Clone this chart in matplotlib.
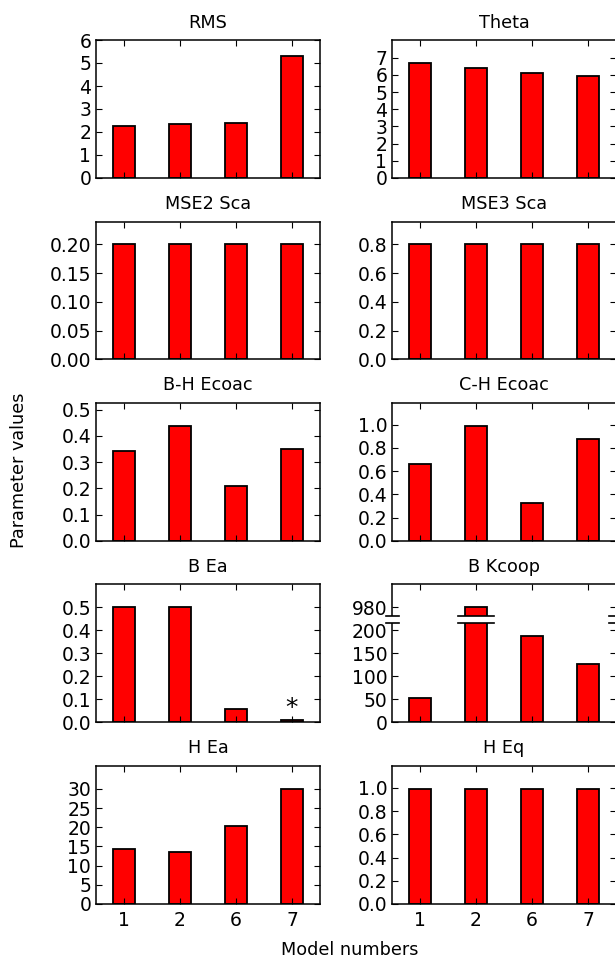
"""
Bar panels of fitted parameter values for each model.
"""

import numpy as np
import matplotlib
matplotlib.use('Agg')
import matplotlib.pyplot as plt
from matplotlib.patches import Rectangle

#########################################################################################

# DATA

models = ['1', '2', '6', '7']

rms = [2.26, 2.33, 2.41, 5.29]
theta = [6.69, 6.38, 6.09, 5.92]
mse2_sca = [0.20, 0.20, 0.20, 0.20]
mse3_sca = [0.80, 0.80, 0.80, 0.80]
bh_ecoac = [0.342, 0.438, 0.21, 0.352]
ch_ecoac = [0.659, 0.989, 0.33, 0.88]
b_ea = [0.50, 0.50, 0.057, 0.013]
b_kcoop = [52.7, 980.0, 188.5, 126.3]
h_ea = [14.4, 13.6, 20.4, 30.0]
h_eq = [0.99, 0.99, 0.99, 0.99]

panel_titles = ['RMS', 'Theta', 'MSE2 Sca', 'MSE3 Sca', 'B-H Ecoac', 'C-H Ecoac',
                'B Ea', 'B Kcoop', 'H Ea', 'H Eq']

yticks_rms = [0, 1, 2, 3, 4, 5, 6]
yticks_theta = [0, 1, 2, 3, 4, 5, 6, 7]
yticks_mse2 = [0.00, 0.05, 0.10, 0.15, 0.20]
yticks_mse3 = [0.0, 0.2, 0.4, 0.6, 0.8]
yticks_bh = [0.0, 0.1, 0.2, 0.3, 0.4, 0.5]
yticks_ch = [0.0, 0.2, 0.4, 0.6, 0.8, 1.0]
yticks_bea = [0.0, 0.1, 0.2, 0.3, 0.4, 0.5]
yticks_kcoop = [0, 50, 100, 150, 200, 980]
yticks_hea = [0, 5, 10, 15, 20, 25, 30]
yticks_heq = [0.0, 0.2, 0.4, 0.6, 0.8, 1.0]

# B Kcoop uses a broken axis: values above the break are shifted down
kcoop_shift = 730.0
kcoop_break = (217, 232)

starred_panel = 'B Ea'
starred_model = 3

#########################################################################################

plt.rcParams['font.family'] = 'DejaVu Sans'
plt.rcParams['xtick.direction'] = 'in'
plt.rcParams['ytick.direction'] = 'in'
plt.rcParams['xtick.top'] = True
plt.rcParams['ytick.right'] = True
plt.rcParams['xtick.major.size'] = 4.5
plt.rcParams['ytick.major.size'] = 4.5
plt.rcParams['xtick.major.pad'] = 5
plt.rcParams['ytick.major.pad'] = 3.5
plt.rcParams['xtick.labelsize'] = 13.5
plt.rcParams['ytick.labelsize'] = 13.5
plt.rcParams['axes.linewidth'] = 1.1

fig, axes = plt.subplots(5, 2, figsize=(6.15, 9.6), dpi=100)
fig.subplots_adjust(left=96/615, right=616/615, top=1 - 40/960, bottom=1 - 904/960,
                    wspace=72/224, hspace=43.5/138)

panels = [
    (rms, yticks_rms, (0, 6)),
    (theta, yticks_theta, None),
    (mse2_sca, yticks_mse2, None),
    (mse3_sca, yticks_mse3, None),
    (bh_ecoac, yticks_bh, None),
    (ch_ecoac, yticks_ch, None),
    (b_ea, yticks_bea, None),
    (b_kcoop, yticks_kcoop, None),
    (h_ea, yticks_hea, None),
    (h_eq, yticks_heq, None),
]

x = np.arange(len(models))
width = 0.41

for ax, title, (vals, ticks, ylim) in zip(axes.flat, panel_titles, panels):
    vals = np.asarray(vals, dtype=float)
    tick_pos = np.asarray(ticks, dtype=float)
    if title == 'B Kcoop':
        # move everything above the break down to the top segment
        vals = np.where(vals > kcoop_break[1], vals - kcoop_shift, vals)
        tick_pos = np.where(tick_pos > kcoop_break[1], tick_pos - kcoop_shift, tick_pos)
        ylim = (0, 300)
    ax.bar(x, vals, width, color='#ff0000', edgecolor='black', linewidth=1.3)
    ax.set_xlim(-0.5, len(models) - 0.5)
    if ylim is None:
        ylim = (0, 1.2 * vals.max())
    ax.set_ylim(*ylim)
    ax.set_yticks(tick_pos)
    ax.set_yticklabels([('%g' % t) if title in ('RMS', 'Theta', 'H Ea', 'B Kcoop')
                        else ('%.2f' % t if title == 'MSE2 Sca' else '%.1f' % t)
                        for t in ticks])
    ax.set_xticks(x)
    ax.set_title(title, fontsize=12.7, pad=9)

    if title == 'B Kcoop':
        lo, hi = kcoop_break
        spans = [(-0.6, -0.38), (x[1] - 0.32, x[1] + 0.32), (len(models) - 0.62, len(models) - 0.4)]
        for x0, x1 in spans:
            ax.add_patch(Rectangle((x0, lo), x1 - x0, hi - lo, facecolor='white',
                                   edgecolor='none', clip_on=False, zorder=3))
            for yb in (lo, hi):
                ax.plot([x0, x1], [yb, yb], color='black', lw=1.2, clip_on=False, zorder=4)

    if title == starred_panel:
        ax.annotate('*', (x[starred_model], vals[starred_model]), xytext=(0, 0),
                    textcoords='offset points', ha='center', va='bottom', fontsize=18)

for ax in axes[:-1].flat:
    ax.set_xticklabels([])
for ax in axes[-1]:
    ax.set_xticklabels(models)

fig.text(19/615, 1 - 470/960, 'Parameter values', rotation=90, ha='center', va='center',
         fontsize=12.7)
fig.text(350/615, 1 - 950/960, 'Model numbers', ha='center', va='center', fontsize=12.7)

fig.savefig('out.png', dpi=100)
